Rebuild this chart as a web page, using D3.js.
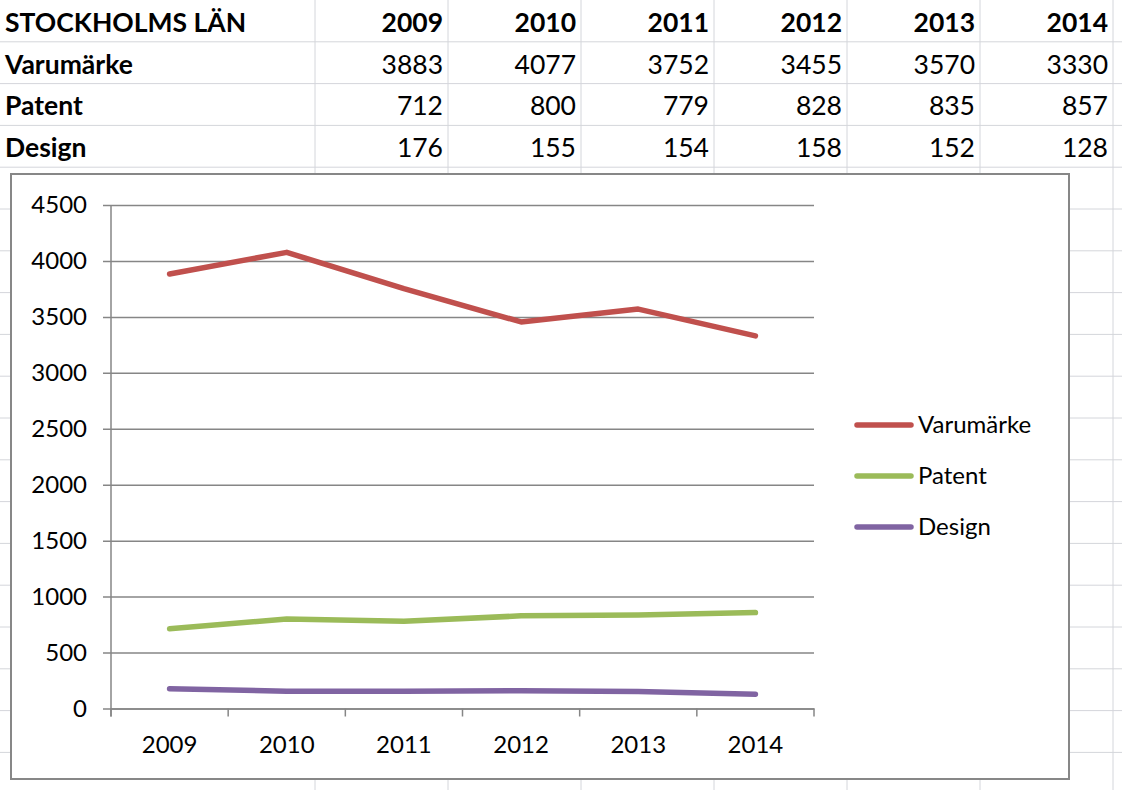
<!DOCTYPE html>
<html>
<head>
<meta charset="utf-8">
<script src="https://cdn.jsdelivr.net/npm/d3@7"></script>
<style>
  body { margin: 0; background: #fff; }
  svg { display: block; }
  text { font-family: Lato, "Open Sans", sans-serif; fill: #000; }
</style>
</head>
<body>
<div id="sheet"></div>
<script>
// data
const title = 'STOCKHOLMS LÄN';
const years = ['2009', '2010', '2011', '2012', '2013', '2014'];
const seriesNames = ['Varumärke', 'Patent', 'Design'];
const varumarke = [3883, 4077, 3752, 3455, 3570, 3330];
const patent = [712, 800, 779, 828, 835, 857];
const design = [176, 155, 154, 158, 152, 128];
const yTicks = [0, 500, 1000, 1500, 2000, 2500, 3000, 3500, 4000, 4500];

const colors = ['#c0504d', '#9bbb59', '#8064a2'];
const values = [varumarke, patent, design];

const width = 1122, height = 790;
const rowH = 41.8, colA = 315, colW = 133;

const svg = d3.select('#sheet').append('svg')
  .attr('width', width)
  .attr('height', height);

// spreadsheet grid
const grid = svg.append('g').attr('stroke', '#d4d6db').attr('stroke-width', 1);
grid.selectAll('line.v')
  .data(d3.range(years.length + 1))
  .join('line')
  .attr('class', 'v')
  .attr('x1', d => colA + d * colW).attr('x2', d => colA + d * colW)
  .attr('y1', 0).attr('y2', height);
grid.selectAll('line.h')
  .data(d3.range(1, 19))
  .join('line')
  .attr('class', 'h')
  .attr('x1', 0).attr('x2', width)
  .attr('y1', d => d * rowH).attr('y2', d => d * rowH);

// table cells
const table = svg.append('g').style('font-size', '26.5px');
const rows = [[title].concat(years)].concat(
  seriesNames.map((n, i) => [n].concat(values[i]))
);
rows.forEach((r, ri) => {
  const base = (ri + 1) * rowH - 10;
  table.append('text')
    .attr('x', 5).attr('y', base)
    .style('font-weight', 'bold')
    .text(r[0]);
  r.slice(1).forEach((v, ci) => {
    table.append('text')
      .attr('x', colA + (ci + 1) * colW - 5).attr('y', base)
      .attr('text-anchor', 'end')
      .style('font-weight', ri === 0 ? 'bold' : 'normal')
      .text(v);
  });
});

// chart object
svg.append('rect')
  .attr('x', 11).attr('y', 174)
  .attr('width', 1058).attr('height', 605)
  .attr('fill', '#fff')
  .attr('stroke', '#878787')
  .attr('stroke-width', 2);

const margin = { left: 111, top: 205 };
const plotW = 703, plotH = 503.5;

const chart = svg.append('g')
  .attr('transform', 'translate(' + margin.left + ',' + margin.top + ')');

const x = d3.scaleBand().domain(years).range([0, plotW]);
const y = d3.scaleLinear().domain([0, 4500]).range([plotH, 0]);

// y axis + gridlines
const yAxis = chart.append('g')
  .call(d3.axisLeft(y).tickValues(yTicks).tickFormat(d3.format('d'))
    .tickSize(8).tickSizeOuter(0).tickPadding(16));
yAxis.select('.domain').remove();
yAxis.selectAll('.tick line')
  .attr('x1', plotW)
  .attr('stroke', '#868686')
  .attr('stroke-width', 1.5);
yAxis.selectAll('.tick text')
  .style('font-size', '24px')
  .style('font-family', 'Lato, sans-serif');

chart.append('line')
  .attr('x1', 0).attr('x2', 0)
  .attr('y1', 0).attr('y2', plotH + 8)
  .attr('stroke', '#868686').attr('stroke-width', 1.5);

// x axis: labels at centres, ticks between categories
const xAxis = chart.append('g')
  .attr('transform', 'translate(0,' + plotH + ')')
  .call(d3.axisBottom(x).tickSize(0).tickPadding(27));
xAxis.select('.domain')
  .attr('stroke', '#868686').attr('stroke-width', 1.5);
xAxis.selectAll('.tick text')
  .style('font-size', '24px')
  .style('font-family', 'Lato, sans-serif');
xAxis.selectAll('line.cat')
  .data(d3.range(years.length + 1))
  .join('line')
  .attr('class', 'cat')
  .attr('x1', d => d * x.bandwidth()).attr('x2', d => d * x.bandwidth())
  .attr('y1', 0).attr('y2', 8)
  .attr('stroke', '#868686').attr('stroke-width', 1.5);

// series lines
const line = d3.line()
  .x((d, i) => x(years[i]) + x.bandwidth() / 2)
  .y(d => y(d));

chart.selectAll('path.series')
  .data(values)
  .join('path')
  .attr('class', 'series')
  .attr('d', line)
  .attr('fill', 'none')
  .attr('stroke', (d, i) => colors[i])
  .attr('stroke-width', 5.5)
  .attr('stroke-linejoin', 'round')
  .attr('stroke-linecap', 'round');

// legend
const legend = svg.append('g').attr('transform', 'translate(857,425)');
const item = legend.selectAll('g')
  .data(seriesNames)
  .join('g')
  .attr('transform', (d, i) => 'translate(0,' + i * 51 + ')');
item.append('line')
  .attr('x1', 0).attr('x2', 54)
  .attr('stroke', (d, i) => colors[i])
  .attr('stroke-width', 5.5)
  .attr('stroke-linecap', 'round');
item.append('text')
  .attr('x', 61).attr('dy', '0.35em')
  .style('font-size', '24px')
  .text(d => d);
</script>
</body>
</html>
